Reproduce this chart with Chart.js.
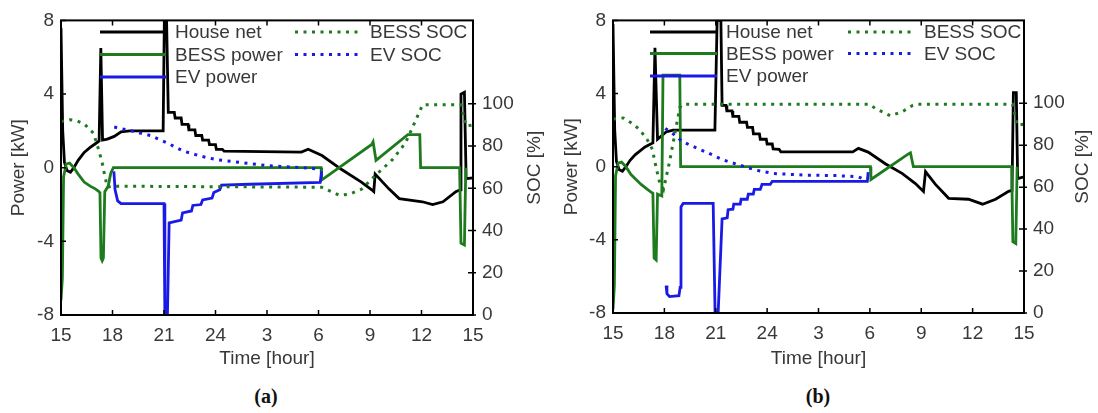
<!DOCTYPE html>
<html>
<head>
<meta charset="utf-8">
<script src="https://cdn.jsdelivr.net/npm/chart.js@4.4.1/dist/chart.umd.min.js"></script>
<style>
  body { margin: 0; background: #fff; width: 1098px; height: 413px; position: relative; overflow: hidden; }
  .panel { position: absolute; top: 0; width: 549px; height: 372px; }
  .cap { position: absolute; top: 385px; width: 60px; text-align: center;
         font: bold 20px 'Liberation Serif', 'DejaVu Serif', serif; color: #111; }
</style>
</head>
<body>
<div class="panel" style="left:0"><canvas id="chartA"></canvas></div>
<div class="panel" style="left:549px"><canvas id="chartB"></canvas></div>
<div class="cap" style="left:236px">(a)</div>
<div class="cap" style="left:788px">(b)</div>
<script>
// time in hours since midnight of day 1 (15 .. 39)
const xTickValues = [15, 18, 21, 24, 27, 30, 33, 36, 39];
const xTickLabels = ['15', '18', '21', '24', '3', '6', '9', '12', '15'];
const powerTicks = [-8, -4, 0, 4, 8];
const socTicks = [0, 20, 40, 60, 80, 100];
const seriesNames = ['House net', 'BESS power', 'EV power', 'BESS SOC', 'EV SOC'];
const socTitle = 'SOC [%]';

// ---- panel (a) ----
const houseNetA = [
  [15.0, 7.6], [15.1, 2.0], [15.2, 0.3], [15.35, -0.15], [15.55, -0.25], [15.75, 0.0], [16.0, 0.4],
  [16.35, 0.83], [16.7, 1.1], [17.0, 1.3], [17.22, 1.45], [17.32, 6.5], [17.42, 1.5], [17.7, 1.55],
  [18.1, 1.7], [18.5, 1.95], [19.0, 2.0], [20.95, 2.0], [21.02, 8.0], [21.15, 8.0], [21.25, 3.0],
  [21.6, 3.0], [21.65, 2.7], [22.0, 2.7], [22.05, 2.35], [22.4, 2.35], [22.45, 2.05], [22.8, 2.05],
  [22.85, 1.75], [23.2, 1.75], [23.25, 1.5], [23.6, 1.5], [23.65, 1.25], [24.0, 1.25], [24.05, 1.0],
  [24.4, 1.0], [24.5, 0.9], [29.0, 0.85], [29.4, 1.0], [30.2, 0.66], [31.35, -0.1], [32.5, -0.78],
  [33.1, -1.2], [33.22, -1.3], [33.3, -0.35], [34.1, -1.15], [34.7, -1.68], [36.05, -1.85],
  [36.65, -2.0], [37.25, -1.85], [38.0, -1.3], [38.25, -1.2], [38.3, 4.0], [38.5, 4.1], [38.6, -0.6],
  [39.0, -0.55]
];
const bessPowerA = [
  [15.0, -7.2], [15.08, -6.0], [15.15, -0.5], [15.3, 0.2], [15.5, 0.25], [15.75, 0.0], [16.0, -0.35],
  [16.35, -0.78], [16.7, -1.0], [17.0, -1.15], [17.22, -1.3], [17.27, -1.4], [17.33, -4.9],
  [17.4, -5.05], [17.47, -4.9], [17.55, -1.3], [17.75, -1.0], [17.9, -0.3], [18.05, 0.0],
  [30.15, 0.0], [30.18, -0.67], [33.1, 1.26], [33.18, 1.4], [33.35, 0.4], [35.2, 1.8], [35.9, 1.8],
  [35.95, 0.0], [38.22, 0.0], [38.3, -4.1], [38.5, -4.2], [38.58, 0.0]
];
const evPowerA = [
  [18.08, -0.2], [18.15, -1.2], [18.3, -1.8], [18.5, -1.95], [21.0, -1.95], [21.05, -8.0],
  [21.2, -8.0], [21.3, -3.0], [22.0, -2.85], [22.08, -2.45], [22.6, -2.35], [22.68, -2.05],
  [23.15, -2.0], [23.25, -1.75], [23.8, -1.65], [23.9, -1.35], [24.25, -1.2], [24.35, -0.95],
  [26.0, -0.9], [30.1, -0.8], [30.18, -0.2]
];
const bessSocA = [
  [15.0, 91.6], [15.5, 92.5], [15.9, 92], [16.35, 90.5], [16.9, 86], [17.2, 78], [17.4, 72],
  [17.55, 66], [17.7, 60.5], [18.0, 61], [30.18, 60.5], [31.2, 56.7], [31.8, 57.2], [32.5, 59.5],
  [33.3, 66], [34.3, 73.5], [35.06, 81.4], [35.65, 92], [36.06, 99.5], [38.3, 99.5], [38.6, 89.5],
  [39.0, 90]
];
const evSocA = [
  [18.1, 89], [19.2, 87], [20.2, 85], [21.2, 81.4], [22.1, 77.7], [23.1, 75.3], [24.1, 73.5],
  [25.06, 72.6], [27.06, 70.7], [29.0, 69.8], [30.15, 69]
];

// ---- panel (b) ----
const houseNetB = [
  [15.0, 7.8], [15.1, 2.0], [15.2, 0.3], [15.35, -0.15], [15.55, -0.25], [15.75, 0.0], [16.0, 0.35],
  [16.29, 0.65], [16.87, 1.08], [17.2, 1.24], [17.33, 1.3], [17.45, 6.5], [17.6, 1.5], [18.1, 1.9],
  [18.5, 2.0], [20.95, 2.0], [21.08, 8.0], [21.3, 8.0], [21.37, 3.35], [21.6, 3.35], [21.65, 3.05],
  [21.95, 3.05], [22.0, 2.75], [22.35, 2.75], [22.4, 2.43], [22.8, 2.43], [22.85, 2.15],
  [23.15, 2.15], [23.2, 1.8], [23.55, 1.8], [23.6, 1.5], [23.95, 1.5], [24.0, 1.24], [24.3, 1.24],
  [24.35, 0.97], [24.7, 0.95], [24.8, 0.81], [29.0, 0.81], [29.33, 1.0], [29.9, 0.8], [30.9, 0.16],
  [31.9, -0.38], [32.66, -0.92], [33.13, -1.35], [33.25, -0.27], [33.83, -0.97], [34.6, -1.73],
  [35.76, -1.78], [36.58, -2.05], [37.34, -1.78], [38.1, -1.35], [38.3, -1.3], [38.38, 4.05],
  [38.55, 4.05], [38.63, -0.65], [39.0, -0.55]
];
const bessPowerB = [
  [15.0, -7.8], [15.08, -6.5], [15.15, -0.5], [15.3, 0.2], [15.5, 0.25], [15.75, 0.0], [16.05, -0.43],
  [16.64, -0.97], [17.16, -1.35], [17.33, -1.45], [17.4, -5.0], [17.52, -5.1], [17.6, -1.5],
  [17.85, -1.6], [17.92, 5.0], [18.9, 5.0], [18.95, 0.0], [30.03, 0.0], [30.06, -0.7], [32.25, 0.7],
  [32.37, 0.76], [32.54, 0.0], [38.28, 0.0], [38.35, -4.1], [38.52, -4.2], [38.6, 0.0]
];
const evPowerB = [
  [18.1, -6.5], [18.15, -6.95], [18.3, -7.1], [18.85, -7.05], [18.92, -6.6], [18.97, -2.2],
  [19.1, -2.0], [20.85, -2.0], [20.96, -8.0], [21.14, -8.0], [21.37, -2.85], [21.67, -2.8],
  [21.72, -2.35], [22.0, -2.32], [22.05, -2.05], [22.43, -2.05], [22.48, -1.78], [22.84, -1.78],
  [22.9, -1.5], [23.19, -1.5], [23.25, -1.24], [23.6, -1.24], [23.7, -0.97], [24.18, -0.97],
  [24.3, -0.8], [29.85, -0.8], [29.9, -0.3]
];
const bessSocB = [
  [15.0, 92.5], [15.6, 93], [16.2, 90], [16.6, 87], [17.0, 82.6], [17.3, 78], [17.5, 70], [17.7, 63],
  [17.95, 59], [18.3, 72], [18.6, 85], [18.9, 98], [19.05, 99.5], [30.0, 99.5], [30.3, 97.6],
  [31.2, 94], [31.9, 96], [32.5, 99], [32.7, 99.5], [38.33, 99.5], [38.6, 89.5], [39.0, 90]
];
const evSocB = [
  [18.05, 88], [18.5, 85.5], [19.0, 82], [19.5, 80], [20.5, 76.5], [21.43, 73], [22.43, 70.4],
  [23.42, 68], [24.36, 66.5], [26.35, 65.7], [28.0, 65.5], [29.3, 65], [29.9, 63]
];

const BLACK = '#000000';
const GREEN = '#1d7a1d';
const BLUE = '#1a1ae6';
const TEXT = '#383838';
const FONT = "'Liberation Sans', Arial, sans-serif";

Chart.defaults.font.family = FONT;
Chart.defaults.color = TEXT;

function pts(arr) {
  return arr.map(p => ({ x: p[0], y: p[1] }));
}

// frame, inward ticks, right axis title and inline legend (MATLAB look)
const framePlugin = {
  id: 'frame',
  afterDraw(chart, args, opts) {
    const { ctx, chartArea: a, scales } = chart;
    ctx.save();
    ctx.strokeStyle = '#000';
    ctx.lineWidth = 2;
    ctx.strokeRect(a.left, a.top, a.right - a.left, a.bottom - a.top);

    const len = 5;
    ctx.lineWidth = 1.5;
    ctx.beginPath();
    scales.x.ticks.forEach(t => {
      const px = scales.x.getPixelForValue(t.value);
      ctx.moveTo(px, a.bottom); ctx.lineTo(px, a.bottom - len);
      ctx.moveTo(px, a.top); ctx.lineTo(px, a.top + len);
    });
    scales.y.ticks.forEach(t => {
      const py = scales.y.getPixelForValue(t.value);
      ctx.moveTo(a.left, py); ctx.lineTo(a.left + len, py);
    });
    scales.y2.ticks.forEach(t => {
      const py = scales.y2.getPixelForValue(t.value);
      ctx.moveTo(a.right - len, py); ctx.lineTo(a.right + 3, py);
    });
    ctx.stroke();

    // right axis title, reading bottom to top
    ctx.fillStyle = TEXT;
    ctx.font = '19px ' + FONT;
    ctx.textAlign = 'center';
    ctx.textBaseline = 'middle';
    ctx.save();
    ctx.translate(chart.width - opts.rightTitleOffset, (a.top + a.bottom) / 2);
    ctx.rotate(-Math.PI / 2);
    ctx.fillText(socTitle, 0, 0);
    ctx.restore();

    // legend, two columns inside the plot
    ctx.textAlign = 'left';
    chart.data.datasets.forEach((ds, i) => {
      const col = i < 3 ? 0 : 1;
      const row = i < 3 ? i : i - 3;
      const x0 = col === 0 ? opts.x1 : opts.x2;
      const y0 = opts.rows[row];
      ctx.strokeStyle = ds.borderColor;
      ctx.lineWidth = 3;
      ctx.setLineDash(ds.borderDash || []);
      ctx.beginPath();
      ctx.moveTo(x0, y0);
      ctx.lineTo(x0 + opts.len, y0);
      ctx.stroke();
      ctx.setLineDash([]);
      ctx.fillStyle = TEXT;
      ctx.fillText(ds.label, x0 + opts.len + 9, y0 + 1);
    });
    ctx.restore();
  }
};

function makeChart(id, series, geo) {
  const dotted = [3, 5.5];
  const datasets = [
    { label: seriesNames[0], data: pts(series[0]), borderColor: BLACK, yAxisID: 'y', order: 5 },
    { label: seriesNames[1], data: pts(series[1]), borderColor: GREEN, yAxisID: 'y', order: 4 },
    { label: seriesNames[2], data: pts(series[2]), borderColor: BLUE, yAxisID: 'y', order: 3 },
    { label: seriesNames[3], data: pts(series[3]), borderColor: GREEN, yAxisID: 'y2', order: 2, borderDash: dotted, borderWidth: 3 },
    { label: seriesNames[4], data: pts(series[4]), borderColor: BLUE, yAxisID: 'y2', order: 1, borderDash: dotted, borderWidth: 3 }
  ];
  datasets.forEach(d => {
    d.pointRadius = 0;
    d.tension = 0;
    d.fill = false;
    if (!d.borderWidth) d.borderWidth = 2.8;
  });

  return new Chart(document.getElementById(id), {
    type: 'line',
    data: { datasets: datasets },
    options: {
      responsive: true,
      maintainAspectRatio: false,
      animation: false,
      layout: { padding: { top: geo.top, left: 0, right: 0, bottom: 0 } },
      plugins: {
        legend: { display: false },
        tooltip: { enabled: false },
        frame: geo.legend
      },
      scales: {
        x: {
          type: 'linear',
          position: 'bottom',
          min: 15,
          max: 39,
          grid: { display: false, drawTicks: false },
          border: { display: false },
          afterBuildTicks: s => { s.ticks = xTickValues.map(v => ({ value: v })); },
          afterFit: s => { s.height = geo.bottom; },
          ticks: {
            autoSkip: false,
            maxRotation: 0,
            padding: 9,
            font: { size: 19 },
            callback: (v, i) => xTickLabels[i]
          },
          title: { display: true, text: 'Time [hour]', font: { size: 19 }, padding: { top: 0, bottom: 2 } }
        },
        y: {
          position: 'left',
          min: -8,
          max: 8,
          grid: { display: false, drawTicks: false },
          border: { display: false },
          afterBuildTicks: s => { s.ticks = powerTicks.map(v => ({ value: v })); },
          afterFit: s => { s.width = geo.left; },
          ticks: { padding: 7, font: { size: 19 } },
          title: { display: true, text: 'Power [kW]', font: { size: 19 }, padding: { top: geo.titlePad, bottom: 0 } }
        },
        y2: {
          position: 'right',
          min: 0,
          max: 139.5,
          grid: { display: false, drawTicks: false },
          border: { display: false },
          afterBuildTicks: s => { s.ticks = socTicks.map(v => ({ value: v })); },
          afterFit: s => { s.width = geo.right; },
          ticks: { padding: 9, font: { size: 19 } }
        }
      }
    },
    plugins: [framePlugin]
  });
}

makeChart('chartA', [houseNetA, bessPowerA, evPowerA, bessSocA, evSocA], {
  top: 16, bottom: 57, left: 61, right: 76, titlePad: 7,
  legend: { x1: 100, x2: 295, rows: [32, 54.5, 77], len: 66, rightTitleOffset: 14 }
});
makeChart('chartB', [houseNetB, bessPowerB, evPowerB, bessSocB, evSocB], {
  top: 17, bottom: 59, left: 64, right: 74, titlePad: 11,
  legend: { x1: 101, x2: 299, rows: [32, 53.5, 76], len: 67, rightTitleOffset: 15 }
});
</script>
</body>
</html>
